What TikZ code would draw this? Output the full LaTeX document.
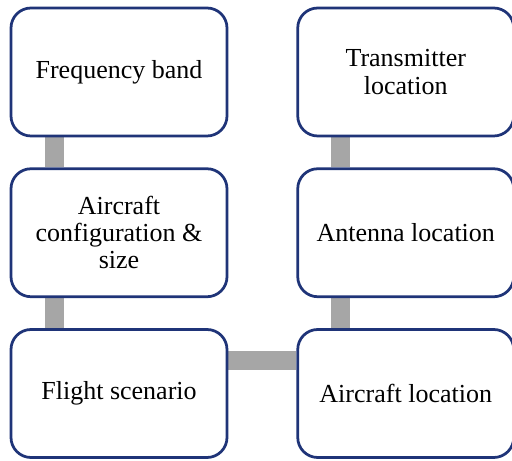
\documentclass[tikz,border=0pt]{standalone}
\usepackage{fontspec}
\setmainfont{Liberation Serif}
\usetikzlibrary{positioning,backgrounds}

\definecolor{boxline}{RGB}{31,52,120}
\definecolor{linkgray}{RGB}{166,166,166}

\begin{document}
\begin{tikzpicture}[
    node distance=0.6cm and 1.36cm,
    box/.style={rectangle, rounded corners=0.4cm, draw=boxline, line width=0.055cm, fill=white,
        minimum width=4.32cm, minimum height=2.56cm, align=center,
        font=\fontsize{14.8}{15.4}\selectfont},
    link/.style={draw=linkgray, line width=0.38cm},
]

\useasboundingbox (0,0) rectangle (10.24,-9.22);

% ====== Left column ======
\node[box] (freq) at (2.38,-1.44) {Frequency band};
\node[box, below=of freq] (config) {Aircraft\\configuration \&\\size};
\node[box, below=of config] (flight) {Flight scenario};

% ====== Right column ======
\node[box, right=of flight] (acloc) {Aircraft location};
\node[box, above=of acloc] (antenna) {Antenna location};
\node[box, above=of antenna] (trans) {Transmitter\\location};

% ====== Links ======
\begin{scope}[on background layer]
\draw[link] ([xshift=0.89cm]freq.south west) -- ([xshift=0.89cm]config.north west);
\draw[link] ([xshift=0.89cm]config.south west) -- ([xshift=0.89cm]flight.north west);
\draw[link] ([yshift=-0.64cm]flight.north east) -- ([yshift=-0.64cm]acloc.north west);
\draw[link] ([xshift=0.89cm]acloc.north west) -- ([xshift=0.89cm]antenna.south west);
\draw[link] ([xshift=0.89cm]antenna.north west) -- ([xshift=0.89cm]trans.south west);
\end{scope}

\end{tikzpicture}
\end{document}
